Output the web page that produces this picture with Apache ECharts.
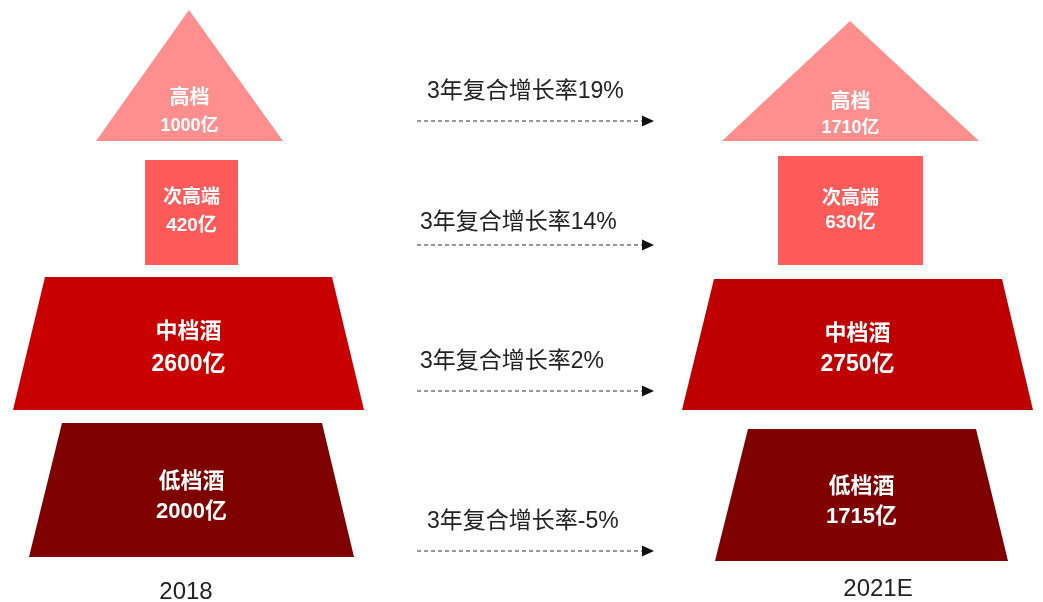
<!DOCTYPE html>
<html>
<head>
<meta charset="utf-8">
<script src="https://cdn.jsdelivr.net/npm/echarts@6/dist/echarts.min.js"></script>
<style>
html,body{margin:0;padding:0;background:#fff;}
#chart{width:1043px;height:602px;}
</style>
</head>
<body>
<div id="chart"></div>
<script>
// ---- data ----
const categories = ['高档', '次高端', '中档酒', '低档酒'];
const years = ['2018', '2021E'];
const values2018 = [1000, 420, 2600, 2000];
const values2021E = [1710, 630, 2750, 1715];
const cagrLabels = ['19%', '14%', '2%', '-5%'];
const cagrPrefix = '3年复合增长率';
const unit = '亿';

// ---- layout (positions in axis units = canvas pixels) ----
const shapes = [
  [ // 2018
    [[189, 10], [283, 141], [96, 141]],
    [[145, 160], [238, 160], [238, 265], [145, 265]],
    [[45, 277], [332, 277], [364, 410], [13, 410]],
    [[62, 423], [322, 423], [354, 557], [29, 557]]
  ],
  [ // 2021E
    [[850, 21], [979, 141], [722, 141]],
    [[778, 156], [923, 156], [923, 265], [778, 265]],
    [[714, 279], [1002, 279], [1033, 410], [682, 410]],
    [[748, 429], [976, 429], [1008, 561], [715, 561]]
  ]
];
const labelY = [
  [[98, 126], [198, 226], [332, 365], [482, 512]],
  [[102, 128], [199, 223], [334, 365], [487, 517]]
];
const tierColors = [
  ['#FF8F8F', '#FF5B5B', '#C80000', '#7F0000'],
  ['#FF8F8F', '#FF5B5B', '#BF0000', '#7F0000']
];
const nameFont = [20, 19, 22, 22];
const valueFont = [18, 19, 23, 22];
const arrowRows = [
  { textX: 427, textY: 92, y: 121 },
  { textX: 420, textY: 223, y: 245 },
  { textX: 420, textY: 362, y: 391 },
  { textX: 427, textY: 522, y: 551 }
];
const arrowX = [417, 654];
const yearPos = [[186, 592], [878, 589]];

const FONT = '"Liberation Sans", Arial, "Noto Sans CJK SC", sans-serif';

function tierRender(yearIdx) {
  return function (params, api) {
    const i = api.value(0);
    const pts = shapes[yearIdx][i].map(p => api.coord(p));
    const xs = pts.map(p => p[0]);
    const cx = (Math.min(...xs) + Math.max(...xs)) / 2;
    const yName = api.coord([0, labelY[yearIdx][i][0]])[1];
    const yVal = api.coord([0, labelY[yearIdx][i][1]])[1];
    return {
      type: 'group',
      children: [
        { type: 'polygon', shape: { points: pts }, style: { fill: tierColors[yearIdx][i] } },
        { type: 'text', style: { text: categories[i], x: cx, y: yName, fill: '#fff',
            fontSize: nameFont[i], fontWeight: 'bold', fontFamily: FONT, align: 'center', verticalAlign: 'middle' } },
        { type: 'text', style: { text: api.value(1) + unit, x: cx, y: yVal, fill: '#fff',
            fontSize: valueFont[i], fontWeight: 'bold', fontFamily: FONT, align: 'center', verticalAlign: 'middle' } }
      ]
    };
  };
}

function arrowRender(params, api) {
  const i = api.value(0);
  const row = arrowRows[i];
  const p1 = api.coord([arrowX[0], row.y]);
  const p2 = api.coord([arrowX[1], row.y]);
  const t = api.coord([row.textX, row.textY]);
  return {
    type: 'group',
    children: [
      { type: 'line', shape: { x1: p1[0], y1: p1[1], x2: p2[0] - 10, y2: p2[1] },
        style: { stroke: '#333', lineWidth: 1.2, lineDash: [4, 3] } },
      { type: 'polygon', shape: { points: [[p2[0] - 12, p2[1] - 5.5], [p2[0], p2[1]], [p2[0] - 12, p2[1] + 5.5]] },
        style: { fill: '#111' } },
      { type: 'text', style: { text: cagrPrefix + cagrLabels[i], x: t[0], y: t[1], fill: '#222',
          fontSize: 23, fontFamily: FONT, align: 'left', verticalAlign: 'middle' } }
    ]
  };
}

function yearRender(params, api) {
  const i = api.value(0);
  const p = api.coord(yearPos[i]);
  return { type: 'text', style: { text: years[i], x: p[0], y: p[1], fill: '#222',
      fontSize: 24, fontFamily: FONT, align: 'center', verticalAlign: 'middle' } };
}

const chart = echarts.init(document.getElementById('chart'));
chart.setOption({
  animation: false,
  backgroundColor: '#fff',
  grid: { left: 0, right: 0, top: 0, bottom: 0 },
  xAxis: { type: 'value', min: 0, max: 1043, show: false },
  yAxis: { type: 'value', min: 0, max: 602, inverse: true, show: false },
  series: [
    { type: 'custom', renderItem: tierRender(0), data: values2018.map((v, i) => [i, v]) },
    { type: 'custom', renderItem: tierRender(1), data: values2021E.map((v, i) => [i, v]) },
    { type: 'custom', renderItem: arrowRender, data: cagrLabels.map((c, i) => [i, c]) },
    { type: 'custom', renderItem: yearRender, data: years.map((y, i) => [i, y]) }
  ]
});
</script>
</body>
</html>
